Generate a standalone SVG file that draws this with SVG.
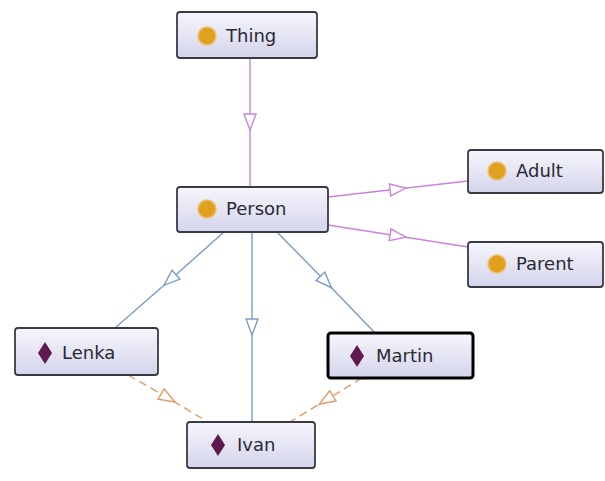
<svg xmlns="http://www.w3.org/2000/svg" width="605" height="481" viewBox="0 0 605 481">
  <style>
    .box { fill: url(#boxFill); stroke: #3a3a44; stroke-width: 1.8; }
    .sel { stroke: #000; stroke-width: 3; }
    .lbl { font-family: "DejaVu Sans", "Liberation Sans", sans-serif; font-size: 18px; fill: #2a2a33; }
    .cls { fill: #e0a020; stroke: #eec070; stroke-width: 1.5; }
    .ind { fill: #5c1a4e; }
    .sub { stroke: #c884d8; stroke-width: 1.4; fill: none; marker-mid: url(#triPurple); }
    .typ { stroke: #7a9cc2; stroke-width: 1.4; fill: none; marker-mid: url(#triBlue); }
    .same { stroke: #e39a68; stroke-width: 1.4; fill: none; stroke-dasharray: 8 5; marker-mid: url(#triOrange); }
  </style>
  <defs>
    <linearGradient id="boxFill" x1="0" y1="0" x2="0" y2="1">
      <stop offset="0" stop-color="#f6f6fc"/>
      <stop offset="1" stop-color="#d4d4ec"/>
    </linearGradient>
    <marker id="triPurple" viewBox="0 0 18 14" refX="9" refY="7" markerWidth="18" markerHeight="14" markerUnits="userSpaceOnUse" orient="auto">
      <path d="M1,1 L17,7 L1,13 Z" fill="#fff" stroke="#c884d8" stroke-width="1.4"/>
    </marker>
    <marker id="triBlue" viewBox="0 0 18 14" refX="9" refY="7" markerWidth="18" markerHeight="14" markerUnits="userSpaceOnUse" orient="auto">
      <path d="M1,1 L17,7 L1,13 Z" fill="#fff" stroke="#7a9cc2" stroke-width="1.4"/>
    </marker>
    <marker id="triOrange" viewBox="0 0 18 14" refX="9" refY="7" markerWidth="18" markerHeight="14" markerUnits="userSpaceOnUse" orient="auto">
      <path d="M1,1 L17,7 L1,13 Z" fill="#fff" stroke="#e39a68" stroke-width="1.4"/>
    </marker>
  </defs>

  <rect width="605" height="481" fill="#fff"/>

  <!-- edges: subclass (purple), type (blue), same-individual (orange dashed) -->
  <g id="connectors">
    <path class="sub" d="M250,58 L250,122 L250,187"/>
    <path class="sub" d="M328,197 L398,189 L468,181"/>
    <path class="sub" d="M328,225 L398,236 L468,247"/>
    <path class="typ" d="M224,232 L170,280 L115,328"/>
    <path class="typ" d="M252,232 L252,327 L252,422"/>
    <path class="typ" d="M277,232 L326,282 L375,333"/>
    <path class="same" d="M128,375 L168,398 L208,422"/>
    <path class="same" d="M362,378 L326,400 L290,422"/>
  </g>

  <g id="thing">
    <rect class="box" x="177" y="12" width="140" height="46" rx="3"/>
    <circle class="cls" cx="207" cy="36" r="9"/>
    <text class="lbl" x="226" y="42">Thing</text>
  </g>
  <g id="person">
    <rect class="box" x="177" y="187" width="151" height="45" rx="3"/>
    <circle class="cls" cx="207" cy="209" r="9"/>
    <text class="lbl" x="226" y="215">Person</text>
  </g>
  <g id="adult">
    <rect class="box" x="468" y="150" width="135" height="43" rx="3"/>
    <circle class="cls" cx="497" cy="171" r="9"/>
    <text class="lbl" x="516" y="177">Adult</text>
  </g>
  <g id="parent">
    <rect class="box" x="468" y="242" width="135" height="45" rx="3"/>
    <circle class="cls" cx="497" cy="264" r="9"/>
    <text class="lbl" x="516" y="270">Parent</text>
  </g>
  <g id="lenka">
    <rect class="box" x="15" y="328" width="143" height="47" rx="3"/>
    <path class="ind" d="M45,342 L52,353 L45,364 L38,353 Z"/>
    <text class="lbl" x="62" y="359">Lenka</text>
  </g>
  <g id="martin">
    <rect class="box sel" x="328" y="333" width="145" height="45" rx="3"/>
    <path class="ind" d="M357,345 L364,356 L357,367 L350,356 Z"/>
    <text class="lbl" x="376" y="362">Martin</text>
  </g>
  <g id="ivan">
    <rect class="box" x="187" y="422" width="128" height="46" rx="3"/>
    <path class="ind" d="M218,434 L225,445 L218,456 L211,445 Z"/>
    <text class="lbl" x="237" y="451">Ivan</text>
  </g>
</svg>
